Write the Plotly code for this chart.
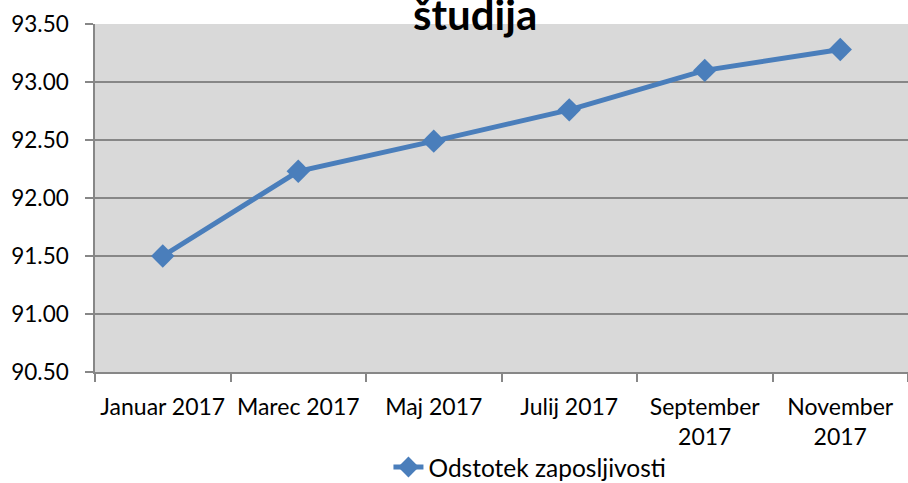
import plotly.graph_objects as go

categories = ["Januar 2017", "Marec 2017", "Maj 2017", "Julij 2017", "September<br>2017", "November<br>2017"]
values = [91.50, 92.23, 92.49, 92.76, 93.10, 93.28]
series_name = "Odstotek zaposljivosti"
title_text = "študija"
y_ticks = [90.5, 91.0, 91.5, 92.0, 92.5, 93.0, 93.5]

blue = "#4A7EBB"
grid = "#878787"

fig = go.Figure()
fig.add_trace(go.Scatter(
    x=categories, y=values, name=series_name,
    mode="lines+markers",
    line=dict(color=blue, width=5),
    marker=dict(symbol="diamond", size=18, color=blue),
))

fig.update_layout(
    width=908, height=483,
    margin=dict(l=95, r=0, t=24, b=111),
    paper_bgcolor="white", plot_bgcolor="#D9D9D9",
    font=dict(family="Lato, Liberation Sans, sans-serif", size=22, color="black"),
    showlegend=True,
    legend=dict(orientation="h", x=0.535, xanchor="center", yref="container",
                y=0.033, yanchor="middle",
                font=dict(size=24.5), bgcolor="rgba(0,0,0,0)"),
    annotations=[dict(text="<b>" + title_text + "</b>", xref="paper", yref="paper",
                      x=0.467, y=1, xanchor="center", yanchor="middle", yshift=10,
                      showarrow=False, font=dict(size=42, color="black"))],
)
fig.update_xaxes(
    type="category", categoryorder="array", categoryarray=categories,
    range=[-0.5, len(categories) - 0.5], tickson="boundaries",
    ticks="outside", ticklen=8, tickcolor=grid, tickwidth=1.5,
    showline=True, linecolor=grid, linewidth=1.5, showgrid=False, zeroline=False,
    tickfont=dict(size=23), automargin=False, ticklabelstandoff=14,
)
fig.update_yaxes(
    range=[90.5, 93.5], tickvals=y_ticks, tickformat=".2f",
    ticks="outside", ticklen=8, tickcolor=grid, tickwidth=1.5,
    showline=True, linecolor=grid, linewidth=1.5,
    showgrid=True, gridcolor=grid, gridwidth=1.5, zeroline=False,
    tickfont=dict(size=22.5), automargin=False, ticklabelstandoff=12,
)

fig.write_html("out.html", config={"displayModeBar": False},
               post_script="document.body.style.margin='0';document.body.style.overflow='hidden';")
